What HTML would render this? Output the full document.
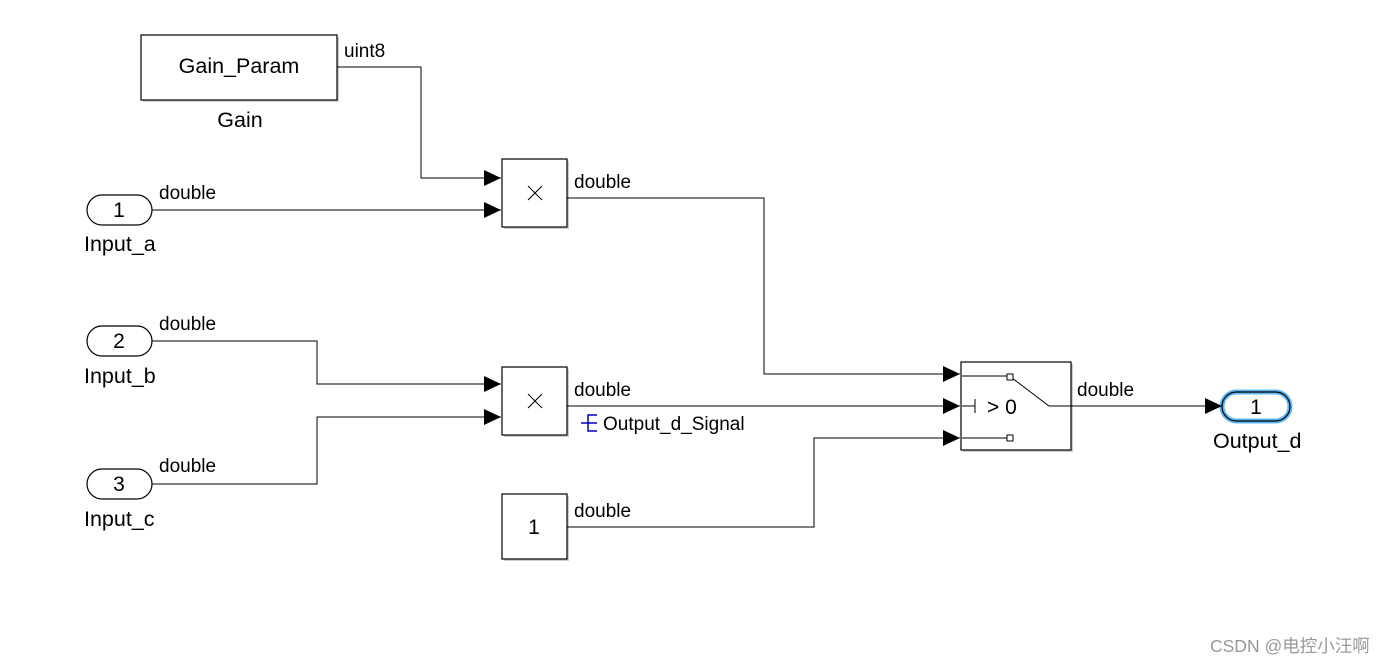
<!DOCTYPE html>
<html><head><meta charset="utf-8"><style>
html,body{margin:0;padding:0;background:#fff;}
svg{display:block;font-family:"Liberation Sans",Arial,sans-serif;}
</style></head><body>
<svg width="1396" height="665" viewBox="0 0 1396 665" xmlns="http://www.w3.org/2000/svg">
<defs>
<marker id="a" markerWidth="17" markerHeight="16" refX="17" refY="8" orient="auto" markerUnits="userSpaceOnUse" viewBox="0 0 17 16"><path d="M0,0 L17,8 L0,16 z" fill="#000"/></marker>
</defs>
<g fill="#ccc" stroke="none">
<rect x="143" y="37" width="196" height="65"/>
<rect x="504" y="161" width="65" height="68"/>
<rect x="504" y="369" width="65" height="68"/>
<rect x="504" y="496" width="65" height="65"/>
<rect x="963" y="364" width="110" height="88"/>
</g>
<g stroke="#000" stroke-width="1.2" fill="#fff">
<rect x="141" y="35" width="196" height="65"/>
<rect x="502" y="159" width="65" height="68"/>
<rect x="502" y="367" width="65" height="68"/>
<rect x="502" y="494" width="65" height="65"/>
<rect x="961" y="362" width="110" height="88"/>
<rect x="87" y="195" width="65" height="30" rx="15"/>
<rect x="87" y="326" width="65" height="30" rx="15"/>
<rect x="87" y="469" width="65" height="30" rx="15"/>
</g>
<rect x="1222" y="392" width="68" height="29" rx="14.5" fill="#fff" stroke="#5ab4ef" stroke-width="5"/>
<rect x="1222" y="392" width="68" height="29" rx="14.5" fill="none" stroke="#000" stroke-width="1.2"/>
<g stroke="#000" stroke-width="1" fill="none">
<polyline points="337,67 421,67 421,178 501,178" marker-end="url(#a)"/>
<polyline points="152,210 501,210" marker-end="url(#a)"/>
<polyline points="567,198 764,198 764,374 960,374" marker-end="url(#a)"/>
<polyline points="152,341 317,341 317,384 501,384" marker-end="url(#a)"/>
<polyline points="152,484 317,484 317,417 501,417" marker-end="url(#a)"/>
<polyline points="567,406 960,406" marker-end="url(#a)"/>
<polyline points="567,527 814,527 814,438 960,438" marker-end="url(#a)"/>
<polyline points="1071,406 1222,406" marker-end="url(#a)"/>
<path d="M528,186 l14,14 M542,186 l-14,14"/>
<path d="M528,394 l14,14 M542,394 l-14,14"/>
<path d="M962,376 H1007 M962,438 H1007 M962,406 H975 M975,399 V413 M1012,378 L1049,406 H1071"/>
<rect x="1007" y="374" width="6" height="6" fill="#fff"/>
<rect x="1007" y="435" width="6" height="6" fill="#fff"/>
<path d="M581,423 H597 M597,415 H588 V431 H597" stroke="#0000c0" stroke-width="1.5"/>
</g>
<g font-size="19" fill="#000">
<text x="239" y="73" text-anchor="middle" font-size="21.5">Gain_Param</text>
<text x="240" y="127" text-anchor="middle" font-size="21.5">Gain</text>
<text x="344" y="57">uint8</text>
<text x="159" y="199">double</text>
<text x="159" y="330">double</text>
<text x="159" y="472">double</text>
<text x="574" y="188">double</text>
<text x="574" y="396">double</text>
<text x="574" y="517">double</text>
<text x="1077" y="396">double</text>
<text x="603" y="430">Output_d_Signal</text>
<text x="119" y="217" text-anchor="middle" font-size="21">1</text>
<text x="119" y="348" text-anchor="middle" font-size="21">2</text>
<text x="119" y="491" text-anchor="middle" font-size="21">3</text>
<text x="1256" y="414" text-anchor="middle" font-size="21">1</text>
<text x="534" y="534" text-anchor="middle" font-size="21">1</text>
<text x="987" y="414" font-size="21">&gt; 0</text>
<text x="84" y="251" font-size="21.5">Input_a</text>
<text x="84" y="383" font-size="21.5">Input_b</text>
<text x="84" y="526" font-size="21.5">Input_c</text>
<text x="1213" y="448" font-size="21.5">Output_d</text>
</g>
<text x="1210" y="652" font-size="17.5" fill="#999" font-family="'Liberation Sans','Noto Sans CJK SC',sans-serif">CSDN @电控小汪啊</text>
</svg>
</body></html>
